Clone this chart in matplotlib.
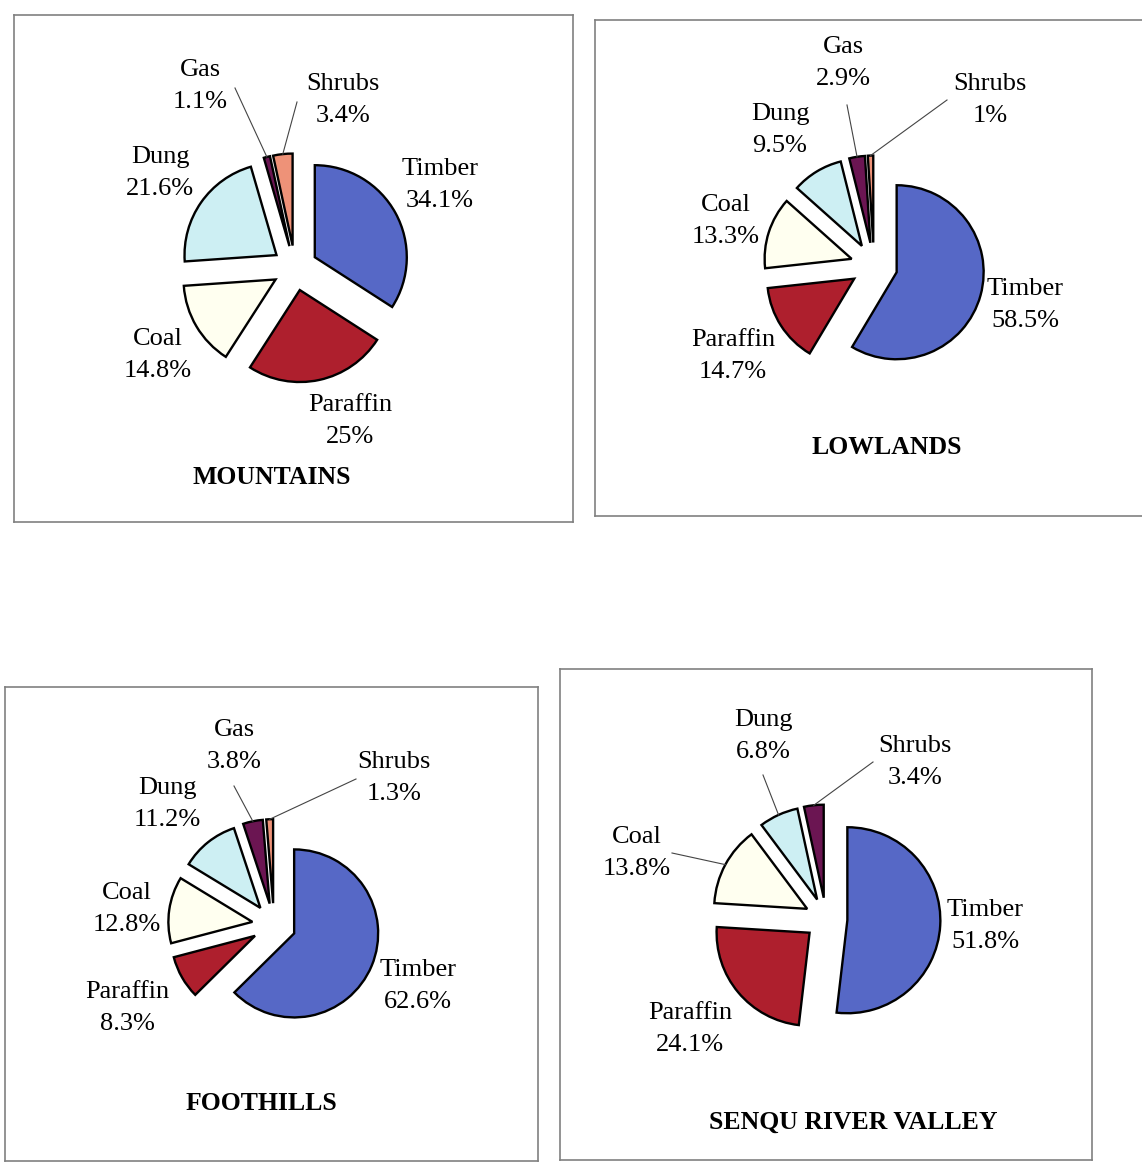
import numpy as np
import matplotlib.pyplot as plt

W, H = 1142, 1164

# fuel shares (%) per region, listed clockwise from 12 o'clock
fuels = ["Timber", "Paraffin", "Coal", "Dung", "Gas", "Shrubs"]
fuel_colors = ["#5668c6", "#ae1f2d", "#fffff0", "#cdeff3", "#6b1552", "#ee9278"]

mountains = [34.1, 25.0, 14.8, 21.6, 1.1, 3.4]
lowlands = [58.5, 14.7, 13.3, 9.5, 2.9, 1.0]
foothills = [62.6, 8.3, 12.8, 11.2, 3.8, 1.3]
senqu_fuels = ["Timber", "Paraffin", "Coal", "Dung", "Shrubs"]
senqu = [51.8, 24.1, 13.8, 6.8, 3.4]

# panel layout in pixels: frame box, pie centre/radius, label and leader anchors
panels = [
    dict(title="MOUNTAINS", names=fuels, values=mountains,
         box=(14, 15, 573, 522), center=(295, 268), radius=92, explode=0.245,
         title_xy=(272, 478),
         labels={"Timber": (440, 185), "Paraffin": (350, 421), "Coal": (158, 355),
                 "Dung": (160, 173), "Gas": (200, 86), "Shrubs": (343, 100)},
         leaders={"Gas": (235, 88), "Shrubs": (297, 102)}),
    dict(title="LOWLANDS", names=fuels, values=lowlands,
         box=(595, 20, 1160, 516), center=(874, 266), radius=87, explode=0.27,
         title_xy=(887, 448), open_right=True,
         labels={"Timber": (1025, 305), "Paraffin": (733, 356), "Coal": (726, 221),
                 "Dung": (780, 130), "Gas": (843, 63), "Shrubs": (990, 100)},
         leaders={"Gas": (847, 105), "Shrubs": (947, 100)}),
    dict(title="FOOTHILLS", names=fuels, values=foothills,
         box=(5, 687, 538, 1161), center=(274, 925), radius=84, explode=0.26,
         title_xy=(261, 1104),
         labels={"Timber": (418, 986), "Paraffin": (127, 1008), "Coal": (127, 909),
                 "Dung": (167, 804), "Gas": (234, 746), "Shrubs": (394, 778)},
         leaders={"Gas": (234, 786), "Shrubs": (356, 779)}),
    dict(title="SENQU RIVER VALLEY", names=senqu_fuels, values=senqu,
         box=(560, 669, 1092, 1160), center=(826, 919), radius=93, explode=0.23,
         title_xy=(853, 1122),
         labels={"Timber": (985, 926), "Paraffin": (690, 1029), "Coal": (637, 853),
                 "Dung": (763, 736), "Shrubs": (915, 762)},
         leaders={"Dung": (763, 775), "Shrubs": (873, 762), "Coal": (672, 853)}),
]

serif = ["Liberation Serif", "DejaVu Serif"]

fig = plt.figure(figsize=(W / 100, H / 100), dpi=100)
fig.patch.set_facecolor("white")

for p in panels:
    x0, y0, x1, y1 = p["box"]
    cx, cy = p["center"]
    r = p["radius"]

    def to_data(pt):
        return ((pt[0] - cx) / r, (cy - pt[1]) / r)

    ax = fig.add_axes([x0 / W, 1 - y1 / H, (x1 - x0) / W, (y1 - y0) / H])
    vals = p["values"]
    n = len(vals)
    colors = [fuel_colors[fuels.index(nm)] if nm != "Shrubs" or n == 6 else fuel_colors[4]
              for nm in p["names"]]
    ax.pie(vals, colors=colors, explode=[p["explode"]] * n, startangle=90,
           counterclock=False,
           wedgeprops=dict(edgecolor="black", linewidth=1.7))

    ax.set_xlim((x0 - cx) / r, (x1 - cx) / r)
    ax.set_ylim((cy - y1) / r, (cy - y0) / r)
    ax.set_aspect("equal")
    ax.set_frame_on(True)
    for side, sp in ax.spines.items():
        sp.set_color("#808080")
        sp.set_linewidth(1.2)
    if p.get("open_right"):
        ax.spines["right"].set_visible(False)
    ax.set_xticks([])
    ax.set_yticks([])

    # slice mid-angles, clockwise from the top
    total = sum(vals)
    cum = np.cumsum([0] + list(vals))
    for i, nm in enumerate(p["names"]):
        v = vals[i]
        lx, ly = to_data(p["labels"][nm])
        ax.text(lx, ly, f"{nm}\n{v:g}%", ha="center", va="center",
                fontsize=19, family=serif, linespacing=1.6)
        if nm in p["leaders"]:
            mid = np.deg2rad(90 - 360 * (cum[i] + v / 2) / total)
            d = 1 + p["explode"]
            ex, ey = d * np.cos(mid), d * np.sin(mid)
            sx, sy = to_data(p["leaders"][nm])
            ax.plot([sx, ex], [sy, ey], color="#444444", lw=0.8)

    tx, ty = to_data(p["title_xy"])
    ax.text(tx, ty, p["title"], ha="center", va="center", fontsize=18.5,
            fontweight="bold", family=serif)

fig.savefig("out.png", dpi=100, facecolor="white")
